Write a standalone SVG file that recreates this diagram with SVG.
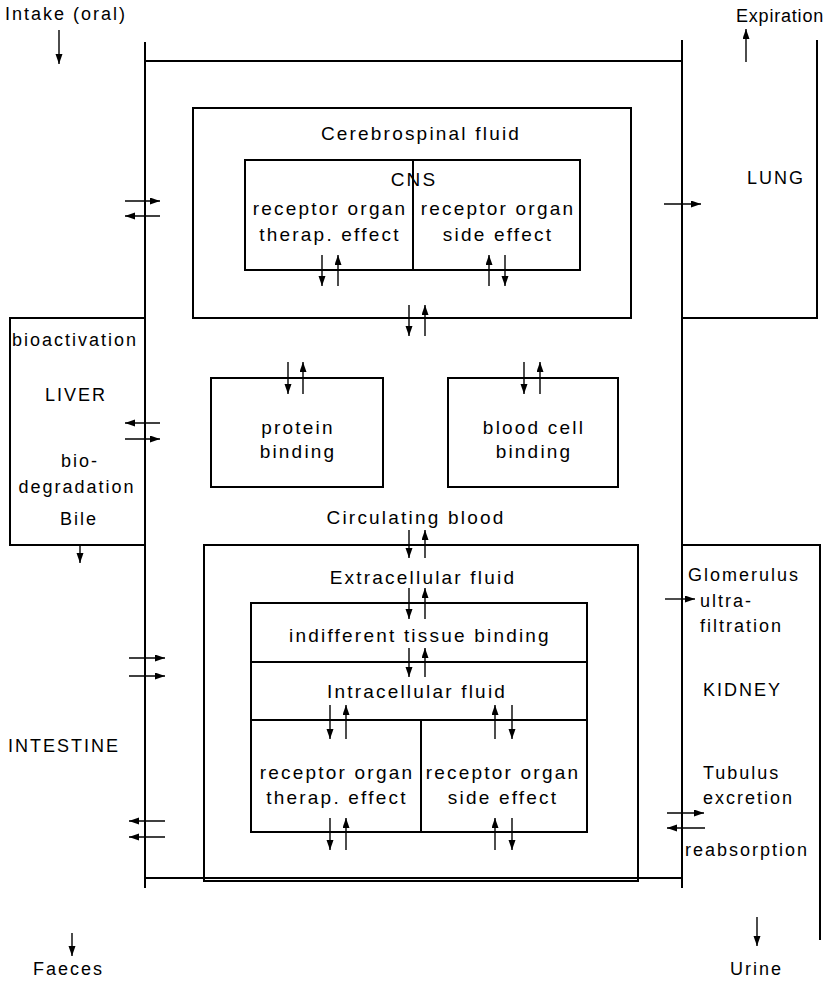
<svg xmlns="http://www.w3.org/2000/svg" width="827" height="984" viewBox="0 0 827 984">
<defs>
<marker id="ah" markerUnits="userSpaceOnUse" markerWidth="11" markerHeight="8" refX="10" refY="3.5" orient="auto"><path d="M0,0 L10,3.5 L0,7 Z" fill="#000"/></marker>
<style>
text{font-family:"Liberation Sans","Helvetica",Arial,sans-serif;font-size:18px;letter-spacing:2px;fill:#000}
.m{text-anchor:middle}
.c{font-size:19px;letter-spacing:2.2px}
.b{fill:none;stroke:#000;stroke-width:2}
.a{stroke:#000;stroke-width:1.4;marker-end:url(#ah)}
</style>
</defs>
<rect width="827" height="984" fill="#fff"/>
<g id="body">
<path class="b" d="M145,42 V888 M682,40 V888 M145,61 H682 M145,878 H682"/>
</g>
<g id="intake"><text x="5" y="20">Intake (oral)</text></g>
<g id="expiration"><text x="736" y="22" style="letter-spacing:0.8px">Expiration</text></g>
<g id="faeces"><text x="33" y="975">Faeces</text></g>
<g id="urine"><text x="730" y="975">Urine</text></g>
<g id="lung">
<path class="b" d="M817,40 V318 H682"/>
<text x="776" y="184" class="m">LUNG</text>
</g>
<g id="liver">
<path class="b" d="M145,318 H10 V545 H145"/>
<text x="12" y="346">bioactivation</text>
<text x="76" y="401" class="m">LIVER</text>
<text x="80" y="467" class="m">bio-</text>
<text x="77" y="493" class="m">degradation</text>
<text x="79" y="525" class="m">Bile</text>
</g>
<g id="intestine"><text x="8" y="752">INTESTINE</text></g>
<g id="kidney">
<path class="b" d="M682,545 H820 V940"/>
<text x="688" y="581">Glomerulus</text>
<text x="700" y="607">ultra-</text>
<text x="700" y="632">filtration</text>
<text x="703" y="696">KIDNEY</text>
<text x="703" y="779">Tubulus</text>
<text x="703" y="804">excretion</text>
<text x="685" y="856">reabsorption</text>
</g>
<g id="csf">
<rect class="b" x="193" y="108" width="438" height="210"/>
<text x="421" y="140" class="m c">Cerebrospinal fluid</text>
</g>
<g id="cns">
<rect class="b" x="245" y="160" width="335" height="110"/>
<path class="b" d="M413,160 V270"/>
<text x="414" y="186" class="m c">CNS</text>
<text x="330" y="215" class="m c">receptor organ</text>
<text x="330" y="241" class="m c">therap. effect</text>
<text x="498" y="215" class="m c">receptor organ</text>
<text x="498" y="241" class="m c">side effect</text>
</g>
<g id="protein">
<rect class="b" x="211" y="378" width="172" height="109"/>
<text x="298" y="434" class="m c">protein</text>
<text x="298" y="458" class="m c">binding</text>
</g>
<g id="bloodcell">
<rect class="b" x="448" y="378" width="170" height="109"/>
<text x="534" y="434" class="m c">blood cell</text>
<text x="534" y="458" class="m c">binding</text>
</g>
<g id="blood"><text x="416" y="524" class="m c">Circulating blood</text></g>
<g id="ecf">
<rect class="b" x="204" y="545" width="434" height="336"/>
<text x="423" y="584" class="m c">Extracellular fluid</text>
</g>
<g id="tissue">
<rect class="b" x="251" y="603" width="336" height="59"/>
<text x="420" y="642" class="m c">indifferent tissue binding</text>
</g>
<g id="icf">
<path class="b" d="M251,662 V720 H587 V662"/>
<text x="417" y="698" class="m c">Intracellular fluid</text>
</g>
<g id="rec-therap">
<rect class="b" x="251" y="720" width="170" height="112"/>
<text x="337" y="779" class="m c">receptor organ</text>
<text x="337" y="804" class="m c">therap. effect</text>
</g>
<g id="rec-side">
<rect class="b" x="421" y="720" width="166" height="112"/>
<text x="503" y="779" class="m c">receptor organ</text>
<text x="503" y="804" class="m c">side effect</text>
</g>
<g id="connectors">
<line class="a" x1="59" y1="30" x2="59" y2="64"/>
<line class="a" x1="746" y1="62" x2="746" y2="29"/>
<line class="a" x1="72" y1="933" x2="72" y2="956"/>
<line class="a" x1="757" y1="917" x2="757" y2="946"/>
<line class="a" x1="664" y1="204" x2="701" y2="204"/>
<line class="a" x1="125" y1="201" x2="160" y2="201"/>
<line class="a" x1="160" y1="216" x2="125" y2="216"/>
<line class="a" x1="160" y1="423" x2="125" y2="423"/>
<line class="a" x1="125" y1="439" x2="160" y2="439"/>
<line class="a" x1="80" y1="545" x2="80" y2="563"/>
<line class="a" x1="129" y1="658" x2="165" y2="658"/>
<line class="a" x1="129" y1="676" x2="165" y2="676"/>
<line class="a" x1="165" y1="821" x2="129" y2="821"/>
<line class="a" x1="165" y1="837" x2="129" y2="837"/>
<line class="a" x1="665" y1="599" x2="695" y2="599"/>
<line class="a" x1="667" y1="813" x2="704" y2="813"/>
<line class="a" x1="705" y1="828" x2="667" y2="828"/>
<line class="a" x1="322" y1="255" x2="322" y2="286"/>
<line class="a" x1="338" y1="286" x2="338" y2="255"/>
<line class="a" x1="489" y1="286" x2="489" y2="255"/>
<line class="a" x1="505" y1="255" x2="505" y2="286"/>
<line class="a" x1="409" y1="305" x2="409" y2="336"/>
<line class="a" x1="425" y1="336" x2="425" y2="305"/>
<line class="a" x1="288" y1="362" x2="288" y2="394"/>
<line class="a" x1="303" y1="394" x2="303" y2="362"/>
<line class="a" x1="524" y1="362" x2="524" y2="394"/>
<line class="a" x1="540" y1="394" x2="540" y2="362"/>
<line class="a" x1="409" y1="530" x2="409" y2="558"/>
<line class="a" x1="425" y1="558" x2="425" y2="530"/>
<line class="a" x1="409" y1="588" x2="409" y2="619"/>
<line class="a" x1="425" y1="619" x2="425" y2="588"/>
<line class="a" x1="409" y1="648" x2="409" y2="677"/>
<line class="a" x1="425" y1="677" x2="425" y2="648"/>
<line class="a" x1="330" y1="705" x2="330" y2="739"/>
<line class="a" x1="346" y1="739" x2="346" y2="705"/>
<line class="a" x1="495" y1="739" x2="495" y2="705"/>
<line class="a" x1="512" y1="705" x2="512" y2="739"/>
<line class="a" x1="330" y1="818" x2="330" y2="850"/>
<line class="a" x1="346" y1="850" x2="346" y2="818"/>
<line class="a" x1="495" y1="850" x2="495" y2="818"/>
<line class="a" x1="512" y1="818" x2="512" y2="850"/>
</g>
</svg>
